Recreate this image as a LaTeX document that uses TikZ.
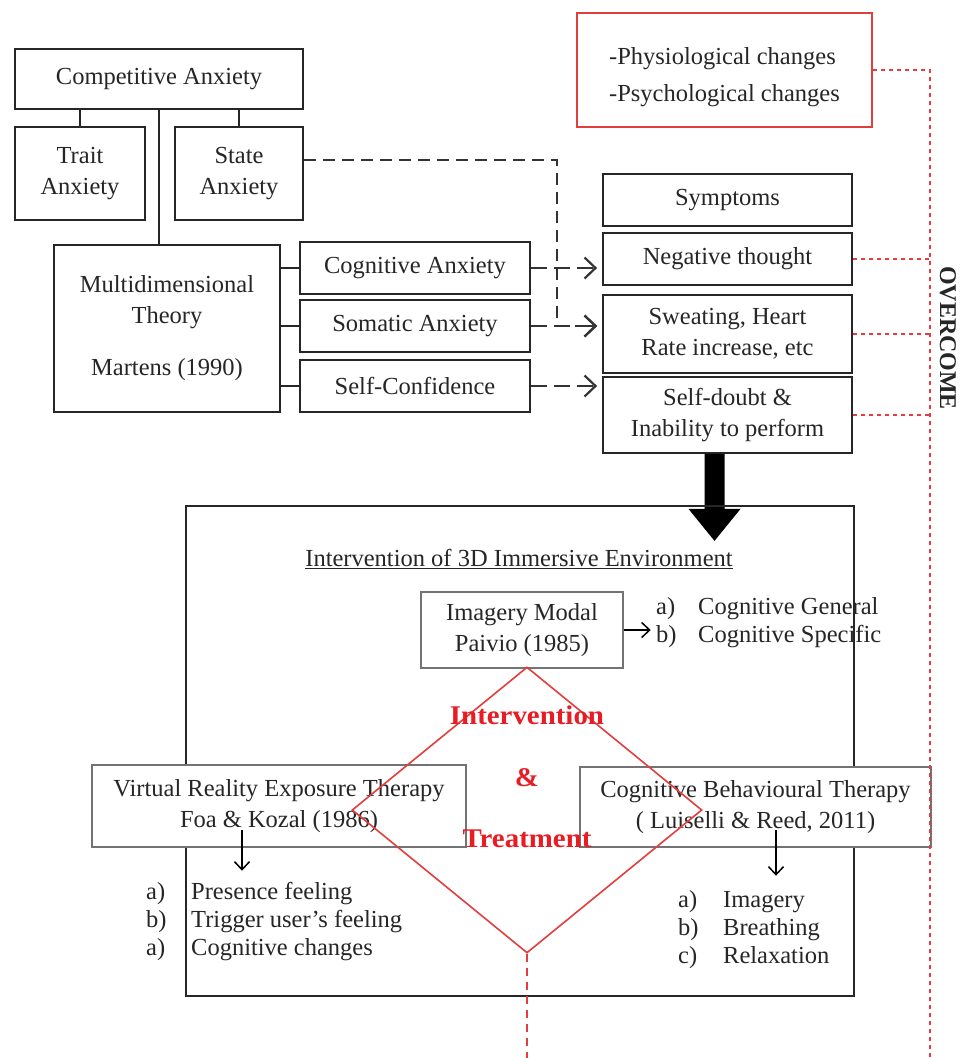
\documentclass[tikz,border=0pt]{standalone}
\usepackage{fontspec}
\setmainfont{Liberation Serif}
\usepackage{tikz}
\usetikzlibrary{shapes,arrows,arrows.meta}

\definecolor{redline}{RGB}{226,62,62}
\definecolor{redtext}{RGB}{232,28,36}
\newcommand{\lstitem}[3][45pt]{\makebox[#1][l]{#2}#3}
\newcommand{\redwide}[1]{\scalebox{1.07}[1]{#1}}

\begin{document}
\begin{tikzpicture}[x=1pt,y=-1pt,
  every node/.style={font=\fontsize{24.5}{31}\selectfont, text=black!85},
  box/.style={draw=black!85, line width=1.8pt, fill=white, align=center, inner sep=0pt},
  gbox/.style={draw=black!55, line width=1.5pt, fill=white, align=center, inner sep=0pt},
  link/.style={draw=black!85, line width=1.8pt},
  dashto/.style={draw=black!80, line width=2pt, dash pattern=on 16pt off 7pt, shorten >=5pt, -{Straight Barb[length=11pt,width=21pt,line width=2.2pt]}},
  thinto/.style={draw=black, line width=1.5pt, -{Straight Barb[length=8pt,width=15pt]}},
  reddots/.style={draw=redline, line width=1.6pt, dash pattern=on 4pt off 4pt},
  redword/.style={text=redtext, font=\fontsize{27}{30}\selectfont\bfseries},
  lst/.style={align=left, inner sep=0pt, anchor=west, font=\fontsize{24.5}{28}\selectfont}
]
\useasboundingbox[fill=white] (0,0) rectangle (960,1058);

% anxiety tree
\node (comp) [box, minimum width=288pt, minimum height=60pt] at (159,79) {Competitive Anxiety};
\node (trait) [box, minimum width=130pt, minimum height=93pt] at (80,173.5) {Trait\\Anxiety};
\node (state) [box, minimum width=128pt, minimum height=93pt] at (239,173.5) {State\\Anxiety};
\node (multi) [box, minimum width=226pt, minimum height=167pt] at (167,328.5) {Multidimensional\\Theory\\[21pt]Martens (1990)};
\node (cog) [box, minimum width=230pt, minimum height=52pt] at (415,268) {Cognitive Anxiety};
\node (som) [box, minimum width=230pt, minimum height=52pt] at (415,326) {Somatic Anxiety};
\node (conf) [box, minimum width=230pt, minimum height=52pt] at (415,386) {Self-Confidence};

\draw[link] (comp.south -| trait.north) -- (trait.north);
\draw[link] (comp.south -| state.north) -- (state.north);
\draw[link] (comp.south) -- (comp.south |- multi.north);
\foreach \n in {cog,som,conf}
  \draw[link] (multi.east |- \n.west) -- (\n.west);

% symptoms
\node (sympt) [box, minimum width=249pt, minimum height=52pt] at (727.5,200) {Symptoms};
\node (neg) [box, minimum width=249pt, minimum height=52pt] at (727.5,259) {Negative thought};
\node (sweat) [box, minimum width=249pt, minimum height=78pt] at (727.5,334) {Sweating, Heart\\Rate increase, etc};
\node (doubt) [box, minimum width=249pt, minimum height=76pt] at (727.5,415) {Self-doubt \&\\Inability to perform};
\node (phys) [box, draw=redline, line width=1.5pt, minimum width=295pt, minimum height=114pt] at (724.5,70) {};
\node (physlist) [align=left] at (724.5,77) {-Physiological changes\\[6pt]-Psychological changes};

\foreach \a/\b in {cog/neg,som/sweat,conf/doubt}
  \draw[dashto] (\a.east) -- (\a.east -| \b.west);
\coordinate (bend) at (557,160);
\draw[dashto, dash pattern=on 12pt off 7pt] (state.east |- bend) -- (bend) -- (bend |- som.east) -- (som.east -| sweat.west);

% big arrow down
\coordinate (bigtop) at ([xshift=-13pt]doubt.south);
\fill[black] (bigtop) ++(-10,0) -- ++(20,0) -- ++(0,55) -- ++(16,0) -- ++(-26,32) -- ++(-26,-32) -- ++(16,0) -- cycle;

% intervention
\node (env) [draw=black!85, line width=1.8pt, minimum width=668pt, minimum height=490pt] at (520,751) {};
\node (envtitle) at (519,559) {\underline{Intervention of 3D Immersive Environment}};
\node (imag) [gbox, minimum width=202pt, minimum height=76pt] at (522,630) {Imagery Modal\\Paivio (1985)};
\draw[thinto] (imag.east) -- ++(27,0);
\node (imlist) [lst] at (656,623) {\lstitem[42pt]{a)}{Cognitive General}\\\lstitem[42pt]{b)}{Cognitive Specific}};

\node (vret) [gbox, minimum width=374pt, minimum height=82pt] at (279,806) {Virtual Reality Exposure Therapy\\Foa \& Kozal (1986)};
\node (cbt) [gbox, minimum width=351pt, minimum height=80pt] at (755.5,807) {Cognitive Behavioural Therapy\\( Luiselli \& Reed, 2011)};
\node (treat) [diamond, draw=redline, line width=1.6pt, minimum width=350pt, minimum height=286pt, inner sep=0pt] at (527,810) {};
\node (wint) [redword] at (527,715) {\redwide{Intervention}};
\node (wamp) [redword] at (527,778) {\redwide{\&}};
\node (wtreat) [redword] at (527,839) {\redwide{Treatment}};

\draw[thinto] ([shift={(-37,-18)}]vret.south) -- ++(0,41);
\draw[thinto] ([shift={(20.5,-18)}]cbt.south) -- ++(0,46);
\node (vlist) [lst] at (146,922) {\lstitem{a)}{Presence feeling}\\\lstitem{b)}{Trigger user's feeling}\\\lstitem{a)}{Cognitive changes}};
\node (clist) [lst] at (678,930) {\lstitem{a)}{Imagery}\\\lstitem{b)}{Breathing}\\\lstitem{c)}{Relaxation}};

% overcome
\coordinate (ovbot) at (930,1058);
\draw[reddots] (phys.east) -| (ovbot);
\foreach \n in {neg,sweat,doubt}
  \draw[reddots] (\n.east) -- (\n.east -| ovbot);
\node (overcome) [rotate=-90, font=\fontsize{24}{28}\selectfont\bfseries] at (948,338) {OVERCOME};
\draw[reddots, dash pattern=on 8pt off 6pt] (treat.south) -- (treat.south |- ovbot);
\end{tikzpicture}
\end{document}
